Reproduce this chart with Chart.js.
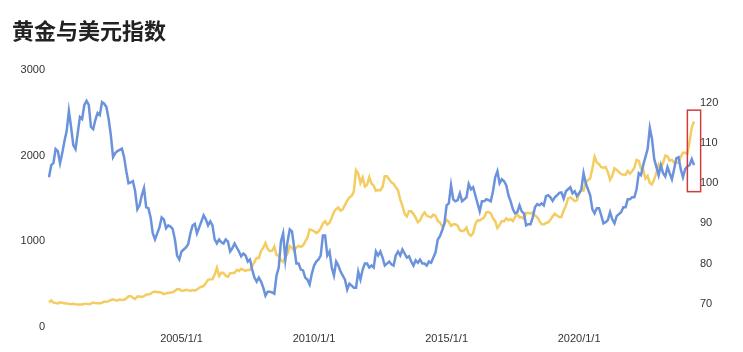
<!DOCTYPE html>
<html>
<head>
<meta charset="utf-8">
<script src="https://cdn.jsdelivr.net/npm/chart.js@4.4.1/dist/chart.umd.min.js"></script>
<style>
    html, body { margin: 0; padding: 0; background: #fff; }
    #wrap { position: relative; width: 743px; height: 352px; }
    #title {
        position: absolute; left: 12px; top: 18px;
        font: bold 22px "Noto Sans CJK SC", sans-serif; line-height: 22px;
        color: #222;
    }
</style>
</head>
<body>
<div id="wrap">
    <canvas id="chart" width="743" height="352"></canvas>
    <div id="title">黄金与美元指数</div>
</div>
<script>
// Monthly data, 2000/1 .. 2024/5
const startYear = 2000;

// Gold price (left axis)
const gold = [
    290, 310, 285, 280, 275, 288, 282, 276, 273, 270, 266, 272,
    266, 262, 263, 262, 272, 270, 267, 273, 285, 279, 276, 276,
    282, 296, 294, 302, 315, 322, 313, 310, 320, 316, 319, 334,
    358, 358, 340, 328, 356, 356, 351, 360, 380, 379, 390, 408,
    414, 405, 408, 400, 384, 392, 398, 402, 406, 422, 440, 442,
    424, 424, 434, 430, 422, 432, 424, 438, 458, 470, 478, 512,
    550, 556, 558, 612, 690, 596, 634, 630, 598, 586, 628, 630,
    632, 666, 654, 680, 668, 656, 666, 666, 714, 756, 808, 804,
    890, 925, 980, 910, 888, 890, 940, 840, 830, 780, 760, 818,
    858, 945, 925, 890, 930, 946, 935, 950, 1000, 1045, 1140, 1130,
    1118, 1096, 1114, 1150, 1208, 1235, 1195, 1218, 1275, 1345, 1375, 1395,
    1358, 1375, 1425, 1475, 1512, 1530, 1580, 1830, 1790, 1680, 1745, 1640,
    1660, 1750, 1675, 1650, 1590, 1600, 1595, 1635, 1760, 1760, 1725, 1688,
    1672, 1630, 1595, 1490, 1415, 1320, 1290, 1350, 1350, 1318, 1276, 1222,
    1245, 1302, 1338, 1300, 1288, 1280, 1312, 1298, 1238, 1222, 1175, 1202,
    1252, 1228, 1180, 1198, 1198, 1182, 1130, 1118, 1126, 1160, 1086, 1065,
    1096, 1200, 1246, 1244, 1262, 1278, 1340, 1342, 1326, 1268, 1236, 1156,
    1192, 1236, 1232, 1268, 1246, 1260, 1236, 1284, 1316, 1280, 1282, 1264,
    1332, 1330, 1326, 1336, 1302, 1282, 1238, 1200, 1196, 1214, 1222, 1252,
    1292, 1322, 1300, 1284, 1284, 1360, 1414, 1500, 1512, 1494, 1470, 1480,
    1562, 1600, 1592, 1684, 1716, 1734, 1850, 1990, 1922, 1900, 1866, 1860,
    1868, 1808, 1718, 1762, 1852, 1834, 1808, 1786, 1776, 1778, 1822, 1790,
    1818, 1858, 1950, 1938, 1848, 1836, 1732, 1764, 1680, 1664, 1726, 1798,
    1898, 1856, 1914, 2000, 1992, 1942, 1952, 1918, 1916, 1916, 1986, 2034,
    2034, 2024, 2162, 2330, 2400
];

// US dollar index (right axis)
const dxy = [
    101.5, 104.5, 105.0, 108.5, 108.0, 105.0, 107.5, 110.5, 113.0, 118.0, 114.0, 109.5,
    108.5, 112.5, 116.5, 116.0, 119.5, 120.5, 119.5, 114.0, 113.5, 115.8, 117.5, 117.0,
    120.2, 119.8, 119.0, 116.0, 112.0, 106.5, 107.5, 108.0, 108.3, 108.6, 106.5, 103.0,
    100.0, 100.2, 100.5, 98.0, 93.5, 94.5, 97.0, 98.8, 94.0, 93.8, 91.5, 87.5,
    86.0, 87.5, 89.0, 91.5, 91.0, 88.8, 89.5, 89.2, 88.6, 86.0, 82.0, 81.0,
    83.0, 83.5, 84.0, 84.8, 87.5, 89.5, 89.9, 87.5, 89.0, 90.5, 92.0, 91.0,
    89.5, 90.5, 89.5, 86.0, 85.0, 86.0, 85.3, 85.0, 86.0, 85.5, 83.0, 83.8,
    85.0, 84.0, 83.0, 81.8, 82.5, 82.0, 80.5, 81.0, 78.5, 76.5, 75.5, 76.5,
    75.5, 74.0, 72.0, 73.0, 73.0, 72.8, 72.5, 77.0, 79.0, 85.5, 87.5, 81.0,
    85.5, 88.5, 88.0, 84.0, 80.0, 80.0, 78.5, 78.3, 76.5, 76.0, 74.8, 77.5,
    79.5, 80.5, 81.0, 82.0, 87.0, 87.0, 82.0, 83.0, 79.0, 77.0, 80.5, 79.5,
    78.0, 77.0, 76.0, 73.5, 75.0, 74.5, 74.0, 74.0, 78.0, 76.0, 78.5, 80.0,
    80.0, 79.0, 79.5, 79.0, 83.0, 82.0, 83.0, 81.5, 79.5, 80.0, 80.5, 79.8,
    79.5, 82.0, 83.0, 82.0, 83.5, 82.5, 81.5, 81.8, 80.5, 79.5, 80.8, 80.2,
    81.0, 80.0, 80.0, 79.5, 80.5, 80.2, 81.5, 82.8, 86.0, 86.8, 88.3, 90.0,
    94.5, 95.0, 99.5, 96.0, 95.5, 95.8, 97.5, 95.5, 96.0, 96.5, 99.8, 98.5,
    99.0, 97.0, 95.0, 93.0, 95.5, 95.5, 96.0, 95.8, 95.5, 98.0, 101.5, 103.0,
    100.0, 101.0, 100.5, 99.5, 97.0, 95.5, 93.5, 92.5, 92.8, 94.5, 93.0, 92.5,
    89.5, 89.8, 89.8, 91.5, 94.0, 94.8, 94.5, 95.0, 94.5, 96.8, 97.0, 96.5,
    95.6, 96.5, 97.0, 97.6, 97.7, 96.2, 98.0, 98.5, 99.0, 97.5, 98.0, 96.8,
    97.5, 98.5, 102.5, 100.0, 98.5, 97.0, 93.5, 92.5, 93.8, 93.8, 92.0, 90.0,
    90.3, 90.8, 92.8, 91.0, 90.0, 91.8, 92.3, 92.8, 94.0, 94.0, 96.0, 96.0,
    96.5, 96.5, 98.5, 102.5, 102.0, 104.5, 106.5, 108.5, 113.8, 111.0, 106.0, 104.0,
    102.0, 104.5, 102.5, 101.7, 104.0, 102.5, 101.0, 103.5, 106.2, 106.5, 103.5, 101.5,
    103.5, 104.2, 104.5, 106.0, 104.5
];

// Axis ticks
const xTickLabels = ['2005/1/1', '2010/1/1', '2015/1/1', '2020/1/1'];
const leftTicks = [0, 1000, 2000, 3000];
const rightTicks = [70, 80, 90, 100, 110, 120];

// Highlight box (month index range, dollar index range)
const boxMonths = [289, 295];
const boxDxy = [97.9, 118.2];

// Month labels like 2005/1/1
const labels = gold.map((_, i) => `${startYear + Math.floor(i / 12)}/${(i % 12) + 1}/1`);

const tickFont = { family: 'Liberation Sans, Arial, sans-serif', size: 11 };
const tickColor = '#333';

// Red rectangle around the latest months
const boxPlugin = {
    id: 'highlightBox',
    afterDatasetsDraw(chart) {
        const x = chart.scales.x;
        const y = chart.scales.y2;
        const ctx = chart.ctx;
        const x0 = x.getPixelForValue(boxMonths[0]);
        const x1 = x.getPixelForValue(boxMonths[1]);
        const y0 = y.getPixelForValue(boxDxy[1]);
        const y1 = y.getPixelForValue(boxDxy[0]);
        ctx.save();
        ctx.strokeStyle = '#d23b3b';
        ctx.lineWidth = 1.5;
        ctx.strokeRect(x0, y0, x1 - x0, y1 - y0);
        ctx.restore();
    }
};

new Chart(document.getElementById('chart'), {
    type: 'line',
    data: {
        labels: labels,
        datasets: [
            {
                label: '美元指数',
                data: dxy,
                yAxisID: 'y2',
                borderColor: '#6b93dc',
                borderWidth: 2.5,
                pointRadius: 0,
                tension: 0
            },
            {
                label: '黄金',
                data: gold,
                yAxisID: 'y',
                borderColor: '#f4cd62',
                borderWidth: 2.5,
                pointRadius: 0,
                tension: 0
            }
        ]
    },
    options: {
        responsive: false,
        animation: false,
        layout: { padding: { top: 70, left: 0, right: 0, bottom: 0 } },
        plugins: {
            legend: { display: false },
            tooltip: { enabled: false }
        },
        scales: {
            x: {
                type: 'category',
                grid: { display: false, drawTicks: false },
                border: { display: false },
                afterFit(scale) { scale.height = 25; },
                ticks: {
                    autoSkip: false,
                    maxRotation: 0,
                    padding: 5,
                    color: tickColor,
                    font: tickFont,
                    callback(value) {
                        const l = this.getLabelForValue(value);
                        return xTickLabels.includes(l) ? l : '';
                    }
                }
            },
            y: {
                position: 'left',
                min: 0,
                max: 3000,
                grid: { display: false, drawTicks: false },
                border: { display: false },
                afterFit(scale) { scale.width = 49; },
                afterBuildTicks(scale) { scale.ticks = leftTicks.map(v => ({ value: v })); },
                ticks: { padding: 4, color: tickColor, font: tickFont, callback: v => String(v) }
            },
            y2: {
                position: 'right',
                min: 64.2,
                max: 128.2,
                grid: { display: false, drawTicks: false },
                border: { display: false },
                afterFit(scale) { scale.width = 49; },
                afterBuildTicks(scale) { scale.ticks = rightTicks.map(v => ({ value: v })); },
                ticks: { padding: 6, color: tickColor, font: tickFont, callback: v => String(v) }
            }
        }
    },
    plugins: [boxPlugin]
});
</script>
</body>
</html>
